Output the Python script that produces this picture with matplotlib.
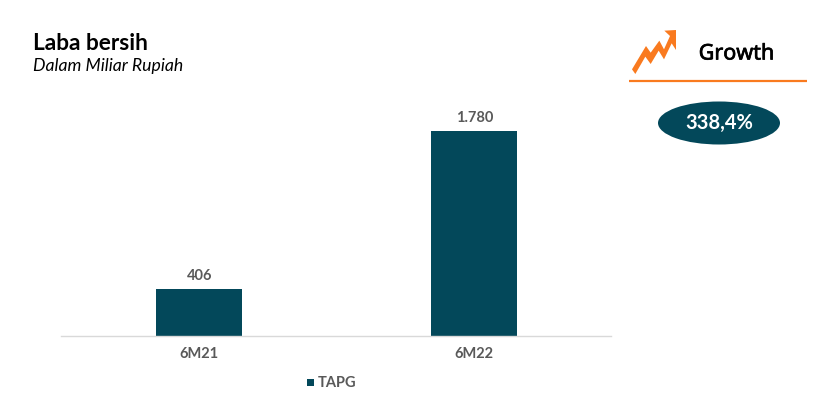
import matplotlib
matplotlib.use("Agg")
import matplotlib.pyplot as plt
import matplotlib.patheffects as pe
from matplotlib.patches import Ellipse, Polygon, Rectangle

categories = ["6M21", "6M22"]
values = [406, 1780]
value_labels = ["406", "1.780"]
series_name = "TAPG"
growth_label = "338,4%"

dark_teal = "#03485A"
orange = "#F97A1F"
grey = "#595959"

plt.rcParams["font.family"] = ["Lato", "DejaVu Sans"]

W, H = 823, 415
fig = plt.figure(figsize=(W / 100, H / 100), dpi=100)

# plot area in pixels: x 61-611, baseline y 336, top y 100
ax = fig.add_axes([61.4 / W, (H - 336) / H, 550 / W, 236 / H])
ax.bar(range(len(values)), values, width=0.3127, color=dark_teal)
ax.set_xlim(-0.5, 1.5)
ax.set_ylim(0, 2049)
ax.set_xticks(range(len(categories)))
ax.set_xticklabels(categories, fontsize=10.5, fontweight="bold", color=grey)
ax.tick_params(axis="x", length=0, pad=8)
ax.set_yticks([])
for s in ["top", "left", "right"]:
    ax.spines[s].set_visible(False)
ax.spines["bottom"].set_color("#D9D9D9")
ax.spines["bottom"].set_linewidth(1)

for i in range(len(values)):
    ax.annotate(value_labels[i], (i, values[i]), xytext=(0.3, 4.6), textcoords="offset points",
                ha="center", va="bottom", fontsize=10.5, fontweight="bold", color=grey)

# overlay in pixel coords for the title, legend and growth badge
ov = fig.add_axes([0, 0, 1, 1])
ov.set_xlim(0, W)
ov.set_ylim(H, 0)
ov.axis("off")

ov.text(33, 43.5, "Laba bersih", fontsize=16.3, fontweight="bold", color="black", va="center")
ov.text(33, 66, "Dalam Miliar Rupiah", fontsize=12.7, fontstyle="italic", color="black", va="center")

ov.add_patch(Rectangle((307, 379), 7, 7, color=dark_teal, lw=0))
ov.text(318, 382.5, series_name, fontsize=10.5, fontweight="bold", color=grey, va="center")

icon = [(36, 148), (78, 78), (92, 98), (118, 62), (132, 88), (150, 48), (133, 32), (168, 30),
        (168, 90), (155, 70), (132, 118), (116, 92), (92, 132), (76, 110), (46, 162)]
icon = [(620 + x / 3, 20 + y / 3) for x, y in icon]
ov.add_patch(Polygon(icon, closed=True, color=orange, lw=0))

# no medium weight installed, a thin stroke thickens the regular face
growth = ov.text(736.5, 54, "Growth", fontsize=15.5, fontfamily="Noto Sans",
                 color="black", ha="center", va="center")
growth.set_path_effects([pe.withStroke(linewidth=0.5, foreground="black")])
ov.plot([629, 807], [81.5, 81.5], color=orange, lw=1.6, solid_capstyle="butt")

ov.add_patch(Ellipse((719, 123), 122, 43, color=dark_teal, lw=0))
ov.text(719, 122.5, growth_label, fontsize=14.5, fontweight="bold", color="white", ha="center", va="center")

fig.savefig("out.png", dpi=100)
